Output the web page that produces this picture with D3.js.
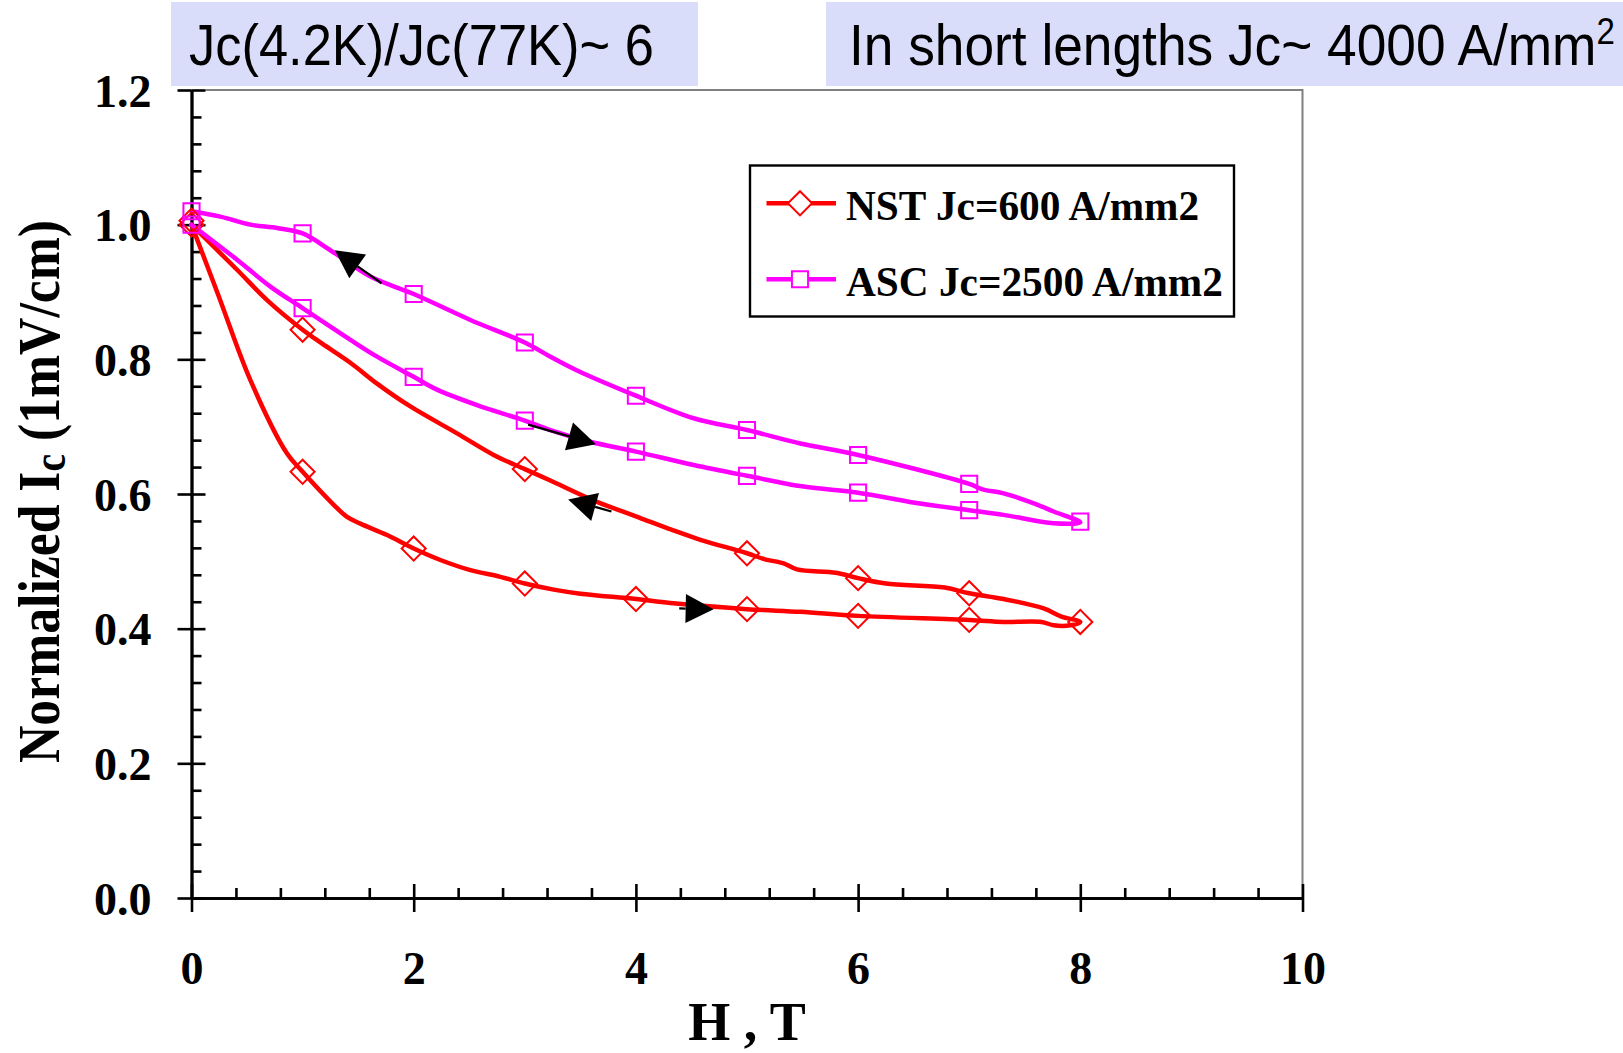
<!DOCTYPE html>
<html><head><meta charset="utf-8">
<script src="https://cdn.jsdelivr.net/npm/d3@7"></script>
<style>body{margin:0;background:#fff}svg{display:block}</style>
</head><body>
<svg id="c" width="1623" height="1053"></svg>
<script>
// ---------- data ----------
const xMajorTicks = [0, 2, 4, 6, 8, 10];
const xMinorTicks = [0.4,0.8,1.2,1.6,2.4,2.8,3.2,3.6,4.4,4.8,5.2,5.6,6.4,6.8,7.2,7.6,8.4,8.8,9.2,9.6];
const yMajorTicks = [0.0, 0.2, 0.4, 0.6, 0.8, 1.0, 1.2];
const yMinorTicks = [0.04,0.08,0.12,0.16,0.24,0.28,0.32,0.36,0.44,0.48,0.52,0.56,0.64,0.68,0.72,0.76,0.84,0.88,0.92,0.96,1.04,1.08,1.12,1.16];
const xTickLabels = ["0", "2", "4", "6", "8", "10"];
const yTickLabels = ["0.0", "0.2", "0.4", "0.6", "0.8", "1.0", "1.2"];
const seriesNames = ["NST Jc=600 A/mm2", "ASC Jc=2500 A/mm2"];
const seriesColors = ["#FF0000", "#FF00FF"];

// NST loop: field up, then field down
const nstCurveH  = [0,0.24,0.53,0.86,1,1.28,1.40,1.52,1.76,2,2.24,2.51,2.78,3,3.26,3.5,4,4.31,5,5.48,6,7,7.31,7.65,7.76,7.91,8,
                    7.83,7.67,7.31,7,6.78,6.25,6,5.80,5.45,5.33,5.16,5,4.58,4.32,4.03,3.61,3.23,3,2.72,2.39,1.97,1.67,1.43,1.17,1,0.68,0.41,0];
const nstCurveIc = [1.0,0.896,0.769,0.66,0.633,0.584,0.566,0.556,0.539,0.519,0.502,0.487,0.477,0.467,0.458,0.452,0.444,0.438,0.429,0.425,0.419,0.413,0.410,0.410,0.405,0.405,0.41,
                    0.418,0.430,0.444,0.4525,0.461,0.467,0.475,0.483,0.488,0.497,0.503,0.512,0.532,0.547,0.565,0.591,0.620,0.637,0.658,0.690,0.730,0.764,0.795,0.824,0.844,0.888,0.933,1.0];
const nstMarkH  = [0,1,2,3,4,5,6,7,8, 7,6,5,3,1,0];
const nstMarkIc = [1.0,0.633,0.519,0.467,0.444,0.429,0.419,0.413,0.41, 0.4525,0.475,0.512,0.637,0.844,1.006];

// ASC loop: field up, then field down
const ascCurveH  = [0,0.41,0.71,1,1.43,1.67,2,2.21,2.57,3,3.23,3.58,4,4.52,5,5.51,6,6.51,7,7.31,7.76,8,
                    7.76,7.60,7.31,7.12,7,6,5.48,5,4.52,4,3.49,3.23,3,2.51,2,1.61,1.25,1,0.77,0.53,0.26,0];
const ascCurveIc = [1.0,0.948,0.908,0.876,0.829,0.804,0.774,0.755,0.732,0.709,0.695,0.678,0.663,0.643,0.627,0.611,0.602,0.587,0.576,0.569,0.5565,0.558,
                    0.574,0.585,0.601,0.607,0.615,0.658,0.675,0.695,0.7125,0.746,0.782,0.804,0.825,0.8585,0.897,0.923,0.962,0.987,0.995,1.0,1.012,1.02];
const ascMarkH  = [0,1,2,3,4,5,6,7,8, 7,6,5,4,3,2,1,0];
const ascMarkIc = [1.0,0.876,0.774,0.709,0.663,0.627,0.602,0.576,0.559, 0.615,0.658,0.695,0.746,0.825,0.897,0.987,1.02];

// direction arrows: [H from, Ic from, H to, Ic to]
const arrowFromH  = [1.71, 3.03, 3.78, 4.39];
const arrowFromIc = [0.913, 0.703, 0.574, 0.430];
const arrowToH    = [1.29, 3.64, 3.39, 4.70];
const arrowToIc   = [0.962, 0.674, 0.592, 0.429];

const noteLeft  = "Jc(4.2K)/Jc(77K)~ 6";
const noteRight = "In short lengths Jc~ 4000 A/mm";
const noteRightSup = "2";

// ---------- drawing ----------
const svg = d3.select("#c");
const serif = "'Liberation Serif','Times New Roman',serif";
const sans = "'Liberation Sans',Arial,sans-serif";

const x = d3.scaleLinear().domain([0, 10]).range([191.5, 1302.5]);
const y = d3.scaleLinear().domain([0, 1.2]).range([898, 90]);

svg.append("rect").attr("width", 1623).attr("height", 1053).attr("fill", "#fff");

// gray frame top/right
svg.append("path")
  .attr("d", `M${x(0)+14},${y(1.2)}H${x(10)}V${y(0)}`)
  .attr("fill", "none").attr("stroke", "#808080").attr("stroke-width", 2);

function styleAxis(g) {
  g.selectAll("path,line").attr("stroke", "#000").attr("stroke-width", 2.6);
  g.selectAll("text").attr("fill", "#000").style("font-family", serif)
    .style("font-weight", "bold").style("font-size", "46px");
}

// y axis
const yAxisL = svg.append("g").attr("transform", `translate(${x(0)},0)`)
  .call(d3.axisLeft(y).tickValues(yMajorTicks).tickSize(14).tickSizeOuter(0)
    .tickPadding(26).tickFormat((d, i) => yTickLabels[i]));
styleAxis(yAxisL);
yAxisL.selectAll("text").attr("dy", "0.35em");
const yAxisR = svg.append("g").attr("transform", `translate(${x(0)},0)`)
  .call(d3.axisRight(y).tickValues(yMajorTicks).tickSize(14).tickSizeOuter(0).tickFormat(""));
styleAxis(yAxisR);
const yAxisMinor = svg.append("g").attr("transform", `translate(${x(0)},0)`)
  .call(d3.axisRight(y).tickValues(yMinorTicks).tickSize(10).tickSizeOuter(0).tickFormat(""));
styleAxis(yAxisMinor);

// x axis
const xAxisB = svg.append("g").attr("transform", `translate(0,${y(0)})`)
  .call(d3.axisBottom(x).tickValues(xMajorTicks).tickSize(14).tickSizeOuter(0)
    .tickFormat((d, i) => xTickLabels[i]));
styleAxis(xAxisB);
xAxisB.selectAll("text").attr("y", 86).attr("dy", 0);
const xAxisT = svg.append("g").attr("transform", `translate(0,${y(0)})`)
  .call(d3.axisTop(x).tickValues(xMajorTicks).tickSize(14).tickSizeOuter(0).tickFormat(""));
styleAxis(xAxisT);
const xAxisMinor = svg.append("g").attr("transform", `translate(0,${y(0)})`)
  .call(d3.axisTop(x).tickValues(xMinorTicks).tickSize(10).tickSizeOuter(0).tickFormat(""));
styleAxis(xAxisMinor);

// curves
const line = d3.line().x(d => x(d[0])).y(d => y(d[1])).curve(d3.curveCatmullRom.alpha(0.5));
const curves = [
  d3.zip(nstCurveH, nstCurveIc),
  d3.zip(ascCurveH, ascCurveIc)
];
curves.forEach((pts, i) => {
  svg.append("path").attr("d", line(pts)).attr("fill", "none")
    .attr("stroke", seriesColors[i]).attr("stroke-width", 4.5)
    .attr("stroke-linejoin", "round").attr("stroke-linecap", "round");
});

// markers
const diamond = d3.symbol().type(d3.symbolSquare).size(290)();
const square = d3.symbol().type(d3.symbolSquare).size(260)();
const markerSets = [
  {pts: d3.zip(nstMarkH, nstMarkIc), path: diamond, rot: 45},
  {pts: d3.zip(ascMarkH, ascMarkIc), path: square, rot: 0}
];
markerSets.forEach((m, i) => {
  svg.append("g").selectAll("path").data(m.pts).join("path")
    .attr("d", m.path)
    .attr("transform", d => `translate(${x(d[0])},${y(d[1])}) rotate(${m.rot})`)
    .attr("fill", "none").attr("stroke", seriesColors[i]).attr("stroke-width", 2);
});

// arrows
const arrows = arrowFromH.map((h, i) => [h, arrowFromIc[i], arrowToH[i], arrowToIc[i]]);
const ag = svg.append("g");
arrows.forEach(a => {
  const x1 = x(a[0]), y1 = y(a[1]), x2 = x(a[2]), y2 = y(a[3]);
  const ang = Math.atan2(y2 - y1, x2 - x1);
  const L = 28, W = 14.5;
  const bx = x2 - L * Math.cos(ang), by = y2 - L * Math.sin(ang);
  const px = -Math.sin(ang) * W, py = Math.cos(ang) * W;
  ag.append("line").attr("x1", x1).attr("y1", y1).attr("x2", bx).attr("y2", by)
    .attr("stroke", "#000").attr("stroke-width", 2.2);
  ag.append("path")
    .attr("d", `M${x2},${y2}L${bx + px},${by + py}L${bx - px},${by - py}Z`)
    .attr("fill", "#000");
});

// legend
const lg = svg.append("g");
lg.append("rect").attr("x", 750).attr("y", 165.5).attr("width", 484).attr("height", 151)
  .attr("fill", "#fff").attr("stroke", "#000").attr("stroke-width", 2.4);
const legRowY = [203.3, 279.3];
const legPaths = [diamond, square];
const legRot = [45, 0];
seriesNames.forEach((name, i) => {
  lg.append("line").attr("x1", 766.5).attr("x2", 836).attr("y1", legRowY[i]).attr("y2", legRowY[i])
    .attr("stroke", seriesColors[i]).attr("stroke-width", 4.5);
  lg.append("path").attr("d", legPaths[i])
    .attr("transform", `translate(800,${legRowY[i]}) rotate(${legRot[i]})`)
    .attr("fill", "#fff").attr("stroke", seriesColors[i]).attr("stroke-width", 2);
  lg.append("text").attr("x", 846).attr("y", legRowY[i] + 17)
    .style("font-family", serif).style("font-weight", "bold").style("font-size", "41.3px")
    .attr("fill", "#000").text(name);
});

// axis titles
svg.append("text").attr("x", x(5)).attr("y", 1040).attr("text-anchor", "middle")
  .style("font-family", serif).style("font-weight", "bold").style("font-size", "54px")
  .text("H , T");

const yt = svg.append("text").attr("text-anchor", "middle")
  .style("font-family", serif).style("font-weight", "bold").style("font-size", "60px");
yt.append("tspan").text("Normalized I");
yt.append("tspan").attr("dy", 6).style("font-size", "46px").text("c");
yt.append("tspan").attr("dy", -6).text(" (1mV/cm)");
{
  const n = yt.node().getComputedTextLength();
  const s = 543 / n;
  yt.attr("transform", `translate(58.5,491.5) rotate(-90) scale(${s},1)`);
}

// top note boxes
const notes = svg.append("g");
notes.append("rect").attr("x", 171).attr("y", 2).attr("width", 527).attr("height", 84).attr("fill", "#DADDFA");
notes.append("rect").attr("x", 826).attr("y", 2).attr("width", 797).attr("height", 84).attr("fill", "#DADDFA");
const t1 = notes.append("text").style("font-family", sans).style("font-size", "58px").attr("fill", "#000").text(noteLeft);
{
  const n = t1.node().getComputedTextLength();
  t1.attr("transform", `translate(189,65) scale(${465 / n},1)`);
}
const t2 = notes.append("text").style("font-family", sans).style("font-size", "58px").attr("fill", "#000");
t2.append("tspan").text(noteRight);
t2.append("tspan").attr("dy", -21).style("font-size", "36px").text(noteRightSup);
{
  const n = t2.node().getComputedTextLength();
  t2.attr("transform", `translate(849,65) scale(${766 / n},1)`);
}
</script>
</body></html>
